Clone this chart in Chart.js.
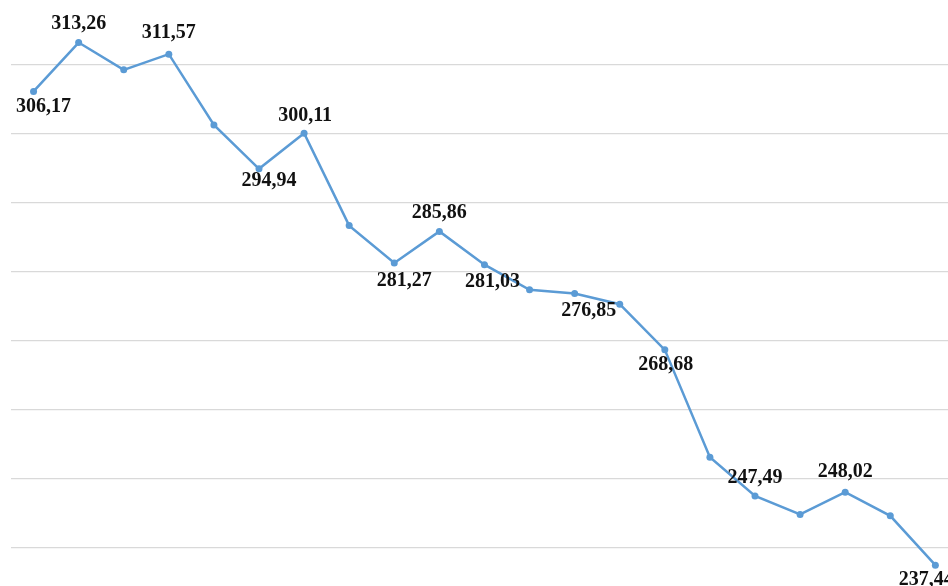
<!DOCTYPE html>
<html>
<head>
<meta charset="utf-8">
<script src="https://cdn.jsdelivr.net/npm/chart.js@4.4.1/dist/chart.umd.min.js"></script>
<style>
  html, body { margin: 0; padding: 0; background: #fff; }
  #wrap { width: 948px; height: 586px; position: relative; }
</style>
</head>
<body>
<div id="wrap"><canvas id="chartCanvas"></canvas></div>
<script>
// --- data ---
const values = [
  306.17, 313.26, 309.3, 311.57, 301.3, 294.94, 300.11, 286.7, 281.27, 285.86,
  281.03, 277.4, 276.85, 275.3, 268.68, 253.1, 247.49, 244.8, 248.02, 244.6, 237.44
];
// which points carry a value label
const labeledIdx = [0, 1, 3, 5, 6, 8, 9, 10, 12, 14, 16, 18, 20];
// horizontal grid values
const gridValues = [240, 250, 260, 270, 280, 290, 300, 310];

// label placement (pixel offsets from the point), same order as labeledIdx
const labelOffsets = [
  [10, 15], [0, -19], [0, -21], [10, 12], [1, -17], [10, 18], [0, -18.5],
  [8, 17], [14, 17], [1, 15], [0, -18.5], [0, -20], [-9, 15]
];

const canvas = document.getElementById("chartCanvas");

const pointLabels = {
  id: "pointLabels",
  afterDatasetsDraw(chart) {
    const ctx = chart.ctx;
    const meta = chart.getDatasetMeta(0);
    ctx.save();
    ctx.font = "bold 20px 'Liberation Serif', 'Times New Roman', serif";
    ctx.fillStyle = "#111";
    ctx.textAlign = "center";
    ctx.textBaseline = "middle";
    labeledIdx.forEach((i, k) => {
      const pt = meta.data[i];
      const [dx, dy] = labelOffsets[k];
      ctx.fillText(values[i].toFixed(2).replace(".", ","), pt.x + dx, pt.y + dy);
    });
    ctx.restore();
  }
};

new Chart(canvas, {
  type: "line",
  data: {
    datasets: [{
      data: values.map((v, i) => ({ x: i, y: v })),
      borderColor: "#5b9bd5",
      backgroundColor: "#5b9bd5",
      borderWidth: 2.5,
      pointRadius: 3.5,
      pointBackgroundColor: "#5b9bd5",
      pointBorderWidth: 0,
      tension: 0,
      clip: false
    }]
  },
  options: {
    responsive: true,
    maintainAspectRatio: false,
    animation: false,
    layout: { autoPadding: false, padding: { left: 11 } },
    plugins: {
      legend: { display: false },
      tooltip: { enabled: false }
    },
    scales: {
      x: {
        type: "linear",
        display: false,
        min: -0.5,
        max: 20.28
      },
      y: {
        min: 234.42,
        max: 319.43,
        afterBuildTicks: axis => { axis.ticks = gridValues.map(v => ({ value: v })); },
        ticks: { display: false },
        border: { display: false },
        grid: { color: "#d9d9d9", lineWidth: 1.2, drawTicks: false }
      }
    }
  },
  plugins: [pointLabels]
});
</script>
</body>
</html>
